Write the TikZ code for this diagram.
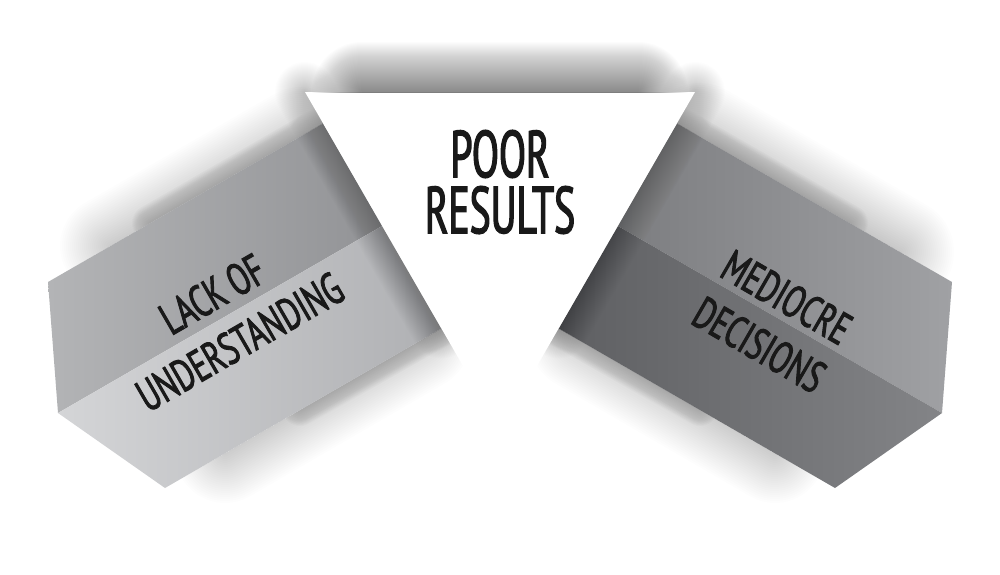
\documentclass[tikz,border=0pt]{standalone}
\usepackage{fontspec}
\newfontfamily\titlefont{PT Sans}[FakeStretch=0.6,FakeBold=2]
\newfontfamily\boxfont{PT Sans}[FakeStretch=0.67,FakeBold=2]
\definecolor{ltopA}{HTML}{B3B4B6}
\definecolor{ltopB}{HTML}{929396}
\definecolor{llowA}{HTML}{D4D5D7}
\definecolor{llowB}{HTML}{AFB0B3}
\definecolor{rtopA}{HTML}{7C7D80}
\definecolor{rtopB}{HTML}{A0A1A4}
\definecolor{rlowA}{HTML}{5E5F62}
\definecolor{rlowB}{HTML}{838487}
\tikzset{
  boxtext/.style={font=\boxfont\fontsize{45}{55}\selectfont,align=center,inner sep=0pt,text=black!90},
  toptext/.style={font=\titlefont\fontsize{66}{56}\selectfont,align=center,inner sep=0pt,text=black!90},
  shadowstroke/.style={line cap=round,draw=black,opacity=#1},
}
% soft shadow: many round strokes on top of each other
\newcommand\softedge[4][0.03]{%
  \foreach \w in {#4} \draw[shadowstroke=#1,line width=\w] (#2) -- (#3);}

\begin{document}
\begin{tikzpicture}[x=1pt,y=-1pt]
  \useasboundingbox (0,0) rectangle (1000,574);
  % corners of the left box
  \coordinate (la) at (48,282);
  \coordinate (lb) at (323,123.5);
  \coordinate (lc) at (382,226);
  \coordinate (ld) at (441.3,328.5);
  \coordinate (le) at (165,488);
  \coordinate (lf) at (58,413);
  % corners of the right box
  \coordinate (ra) at (952,282);
  \coordinate (rb) at (677,123.5);
  \coordinate (rc) at (618,226);
  \coordinate (rd) at (558.7,328.5);
  \coordinate (re) at (835,488);
  \coordinate (rf) at (942,413);
  % white wedge in the middle
  \coordinate (wl) at (305,92);
  \coordinate (wr) at (695,92);
  \coordinate (wt) at (500,430);

  % shadows above the boxes
  \begin{scope}
    \clip (0,309.7) -- (500,21.4) -- (1000,309.7) -- (1000,0) -- (0,0) -- cycle;
    \softedge[0.015]{150,223}{lb}{2,4,...,36}
    \softedge[0.008]{110,246}{300,137}{4,8,...,100}
    \softedge[0.015]{850,223}{rb}{2,4,...,36}
    \softedge[0.009]{900,252}{700,137}{4,8,...,110}
  \end{scope}
  % shadows below the boxes
  \begin{scope}
    \clip (0,583.3) -- (500,294.6) -- (1000,583.3) -- (1000,574) -- (0,574) -- cycle;
    \softedge[0.015]{300,408}{ld}{2,4,...,36}
    \softedge[0.006]{225,453}{420,340}{4,8,...,100}
    \softedge[0.015]{700,408}{rd}{2,4,...,36}
    \softedge[0.006]{775,453}{580,340}{4,8,...,100}
  \end{scope}

  % faces of the boxes
  \shade [left color=ltopA,right color=ltopB] (la) -- (lb) -- (lc) -- (lf) -- cycle;
  \shade [left color=llowA,right color=llowB] (lf) -- (lc) -- (ld) -- (le) -- cycle;
  \shade [left color=rtopA,right color=rtopB] (ra) -- (rb) -- (rc) -- (rf) -- cycle;
  \shade [left color=rlowA,right color=rlowB] (rf) -- (rc) -- (rd) -- (re) -- cycle;

  % darker along the wedge
  \softedge[0.008]{wl}{ld}{2,4,...,60}
  \softedge[0.008]{wr}{rd}{2,4,...,60}
  \fill [white] (wl) -- (wr) -- (wt) -- cycle;
  \begin{scope}
    \clip (250,0) rectangle (750,92);
    \softedge[0.012]{362,92}{638,92}{2,4,...,100}
  \end{scope}

  \node [toptext] (poor) at (500,182) {POOR\\RESULTS};
  \node [boxtext,rotate=30] (lack) at (226,318) {LACK OF\\UNDERSTANDING};
  \node [boxtext,rotate=-30] (medi) at (773,321) {MEDIOCRE\\DECISIONS};
\end{tikzpicture}
\end{document}
